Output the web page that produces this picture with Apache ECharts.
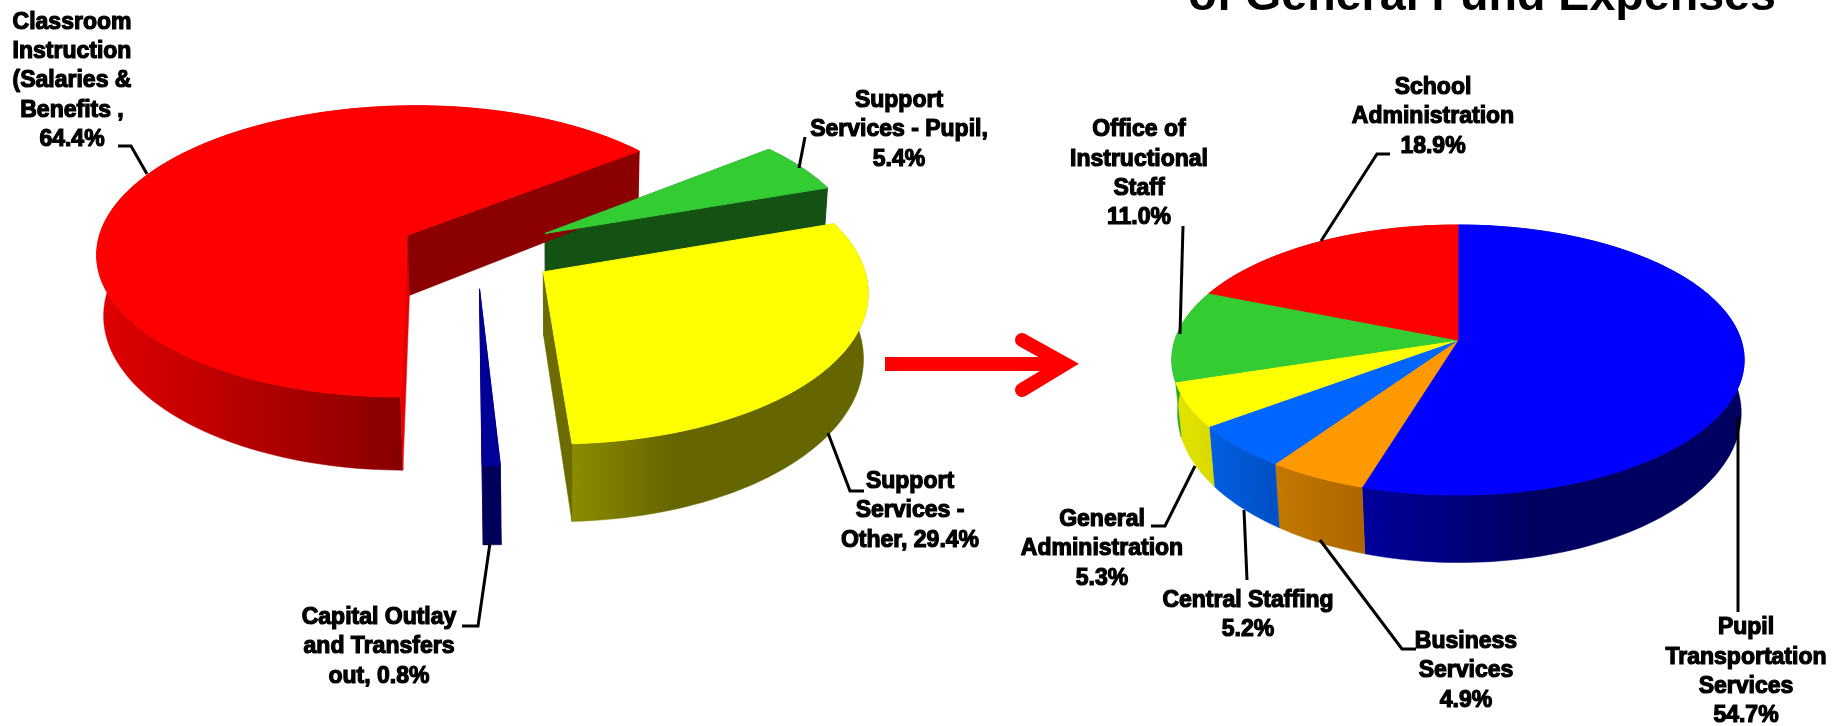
<!DOCTYPE html>
<html lang="en">
<head>
<meta charset="UTF-8">
<title>General Fund Expenses</title>
<script src="https://cdn.jsdelivr.net/npm/echarts@6/dist/echarts.min.js"></script>
<style>
  html, body { margin: 0; padding: 0; background: #fff; }
  #main { width: 1843px; height: 726px; }
</style>
</head>
<body>
<div id="main"></div>
<script>
// left pie, clockwise from its start angle
var leftNames = ['Support\nServices - Pupil,\n', 'Support\nServices -\nOther, ', 'Capital Outlay\nand Transfers\nout, ', 'Classroom\nInstruction\n(Salaries &\nBenefits ,\n'];
var leftValues = [5.4, 29.4, 0.8, 64.4];

// right pie, clockwise from the top
var rightNames = ['Pupil\nTransportation\nServices\n', 'Business\nServices\n', 'Central Staffing\n', 'General\nAdministration\n', 'Office of\nInstructional\nStaff\n', 'School\nAdministration\n'];
var rightValues = [54.7, 4.9, 5.2, 5.3, 11.0, 18.9];

var titleText = 'of General Fund Expenses';

// look of the slices
var leftStyle = {
    cx: 477, cy: 251, B: 314, A: 147.5, k: 0.112, j: 0.006, D: 61.5, explode: 0.25, start: 51.5,
    baseX: 559, baseScale: 0.985,
    top: ['#33cc33', '#ffff00', '#000099', '#ff0000'],
    side: [
        [[0, '#145214'], [1, '#145214']],
        [[0, '#8c8c00'], [0.35, '#666600'], [1, '#666600']],
        [[0, '#00005a'], [1, '#00005a']],
        [[0, '#e00000'], [1, '#880000']]
    ],
    sideX: [[540, 830], [571, 860], [479, 499], [100, 400]],
    wallStart: ['#145214', '#666600', '#00005a', '#e80000'],
    wallEnd: ['#145214', '#6b6b00', '#00005a', '#8b0000']
};
var rightStyle = {
    cx: 1458, cy: 340, B: 283, A: 132, k: 0.148, j: 0, D: 51, explode: 0, start: 0,
    baseX: 1550, baseScale: 0.985,
    top: ['#0000ff', '#ff9900', '#0066ff', '#ffff00', '#33cc33', '#ff0000'],
    side: [
        [[0, '#00009c'], [0.45, '#000060'], [1, '#000060']],
        [[0, '#c47a00'], [1, '#ad6600']],
        [[0, '#0060e0'], [1, '#0050c8']],
        [[0, '#e6e600'], [1, '#d8d800']],
        [[0, '#2aa82a'], [1, '#2aa82a']],
        [[0, '#8b0000'], [1, '#8b0000']]
    ],
    sideX: [[1363, 1745], [1270, 1363], [1210, 1270], [1170, 1215], [1170, 1180], [1180, 1458]]
};

// where each label sits: centre x, centre y of the block, leader line
var leftSpots = [
    {x: 899, y: 130, line: [[805, 137], [799, 168]]},
    {x: 910, y: 511, line: [[828, 433], [850, 491], [864, 491]]},
    {x: 379, y: 647, line: [[490, 543], [478, 626], [462, 626]]},
    {x: 72, y: 81, line: [[118, 146], [131, 146], [147, 174]]}
];
var rightSpots = [
    {x: 1746, y: 672, line: [[1738, 417], [1738, 612]]},
    {x: 1466, y: 671, line: [[1320, 540], [1402, 649], [1416, 649]]},
    {x: 1248, y: 615, line: [[1244, 510], [1247, 580]]},
    {x: 1102, y: 549, line: [[1195, 466], [1165, 526], [1151, 526]]},
    {x: 1139, y: 174, line: [[1183, 226], [1180, 334]]},
    {x: 1433, y: 117, line: [[1390, 154], [1377, 154], [1321, 241]]}
];

function rad(d) { return d * Math.PI / 180; }

function makeProject(s, mid) {
    var ex = s.explode * Math.sin(rad(mid));
    var ey = s.explode * Math.cos(rad(mid));
    return function (angle, r, bottom) {
        var X = ex + r * Math.sin(rad(angle));
        var Y = ey + r * Math.cos(rad(angle));
        var w = 1 / (1 + s.k * Y - s.j * X);
        var sx = s.cx + s.B * X * w;
        var py = -s.A * Y * w;
        if (bottom) {
            return [s.baseX + s.baseScale * (sx - s.baseX), s.cy + 0.983 * py + s.D * w * w];
        }
        return [sx, s.cy + py];
    };
}

function gradient(stops, range) {
    return {
        type: 'linear', global: true,
        x: range[0], y: 0, x2: range[1], y2: 0,
        colorStops: stops.map(function (p) { return {offset: p[0], color: p[1]}; })
    };
}

function poly(points, fill, z2, edge) {
    return {
        type: 'polygon', z2: z2,
        shape: {points: points},
        style: {fill: fill, stroke: fill, lineWidth: edge}
    };
}

// pass 'side' draws walls, pass 'top' the slice faces, so faces always cover the walls
function pieSeries(name, names, values, s, pass) {
    var total = values.reduce(function (a, b) { return a + b; }, 0);
    var data = values.map(function (v, i) { return {name: names[i].replace(/\n/g, ' '), value: [v, i]}; });
    return {
        type: 'custom',
        name: name,
        coordinateSystem: 'none',
        silent: true,
        animation: false,
        z: pass === 'top' ? 4 : 3,
        data: data,
        renderItem: function (params, api) {
            var i = api.value(1);
            var before = values.slice(0, i).reduce(function (a, b) { return a + b; }, 0);
            var a1 = s.start + before / total * 360;
            var a2 = a1 + api.value(0) / total * 360;
            var project = makeProject(s, (a1 + a2) / 2);
            var arcTop = [], arcBottom = [];
            var steps = Math.max(4, Math.ceil((a2 - a1) / 1.5));
            for (var n = 0; n <= steps; n++) {
                var a = a1 + (a2 - a1) * n / steps;
                arcTop.push(project(a, 1, false));
                arcBottom.push(project(a, 1, true));
            }
            var centreTop = project(0, 0, false);
            var centreBottom = project(0, 0, true);
            var children = [];
            if (pass === 'top') {
                children.push(poly([centreTop].concat(arcTop), s.top[i], 3, 1));
            } else {
                children.push(poly(arcTop.concat(arcBottom.slice().reverse()), gradient(s.side[i], s.sideX[i]), 1, 0.5));
                if (s.explode > 0) {
                    children.push(poly([centreTop, arcTop[0], arcBottom[0], centreBottom], s.wallStart[i], 2, 0.5));
                    children.push(poly([centreTop, arcTop[steps], arcBottom[steps], centreBottom], s.wallEnd[i], 2, 0.5));
                }
            }
            return {type: 'group', children: children};
        }
    };
}

var labelStyle = {
    fill: '#000', stroke: '#000', lineWidth: 1.2,
    shadowColor: '#000', shadowBlur: 1.5,
    fontFamily: '"Liberation Sans", Arial, sans-serif',
    fontWeight: 'bold', fontSize: 23, lineHeight: 29.4,
    align: 'center', verticalAlign: 'middle'
};

function labelGraphics(names, values, spots) {
    var out = [];
    names.forEach(function (n, i) {
        out.push({
            type: 'polyline', z: 5, silent: true,
            shape: {points: spots[i].line},
            style: {stroke: '#000', lineWidth: 3, fill: null}
        });
        out.push({
            type: 'text', z: 6, x: spots[i].x, y: spots[i].y, silent: true,
            style: Object.assign({text: n + values[i].toFixed(1) + '%'}, labelStyle)
        });
    });
    return out;
}

var chart = echarts.init(document.getElementById('main'));
var option = {
    backgroundColor: '#fff',
    animation: false,
    series: [
        pieSeries('leftSide', leftNames, leftValues, leftStyle, 'side'),
        pieSeries('leftTop', leftNames, leftValues, leftStyle, 'top'),
        pieSeries('rightSide', rightNames, rightValues, rightStyle, 'side'),
        pieSeries('rightTop', rightNames, rightValues, rightStyle, 'top')
    ],
    graphic: [
        {
            type: 'text', x: 1482, y: 21, z: 6, silent: true,
            style: {
                text: titleText, fill: '#000',
                fontFamily: '"Liberation Sans", Arial, sans-serif',
                fontWeight: 'bold', fontSize: 46.6,
                align: 'center', verticalAlign: 'bottom'
            }
        },
        // the arrow between the two pies
        {
            type: 'line', z: 5, silent: true,
            shape: {x1: 885, y1: 364, x2: 1066, y2: 364},
            style: {stroke: '#ff0000', lineWidth: 14}
        },
        {
            type: 'polyline', z: 5, silent: true,
            shape: {points: [[1022, 340], [1065, 364], [1022, 390]]},
            style: {stroke: '#ff0000', lineWidth: 14, lineCap: 'round', lineJoin: 'miter', fill: null}
        }
    ].concat(labelGraphics(leftNames, leftValues, leftSpots), labelGraphics(rightNames, rightValues, rightSpots))
};
chart.setOption(option);
</script>
</body>
</html>
